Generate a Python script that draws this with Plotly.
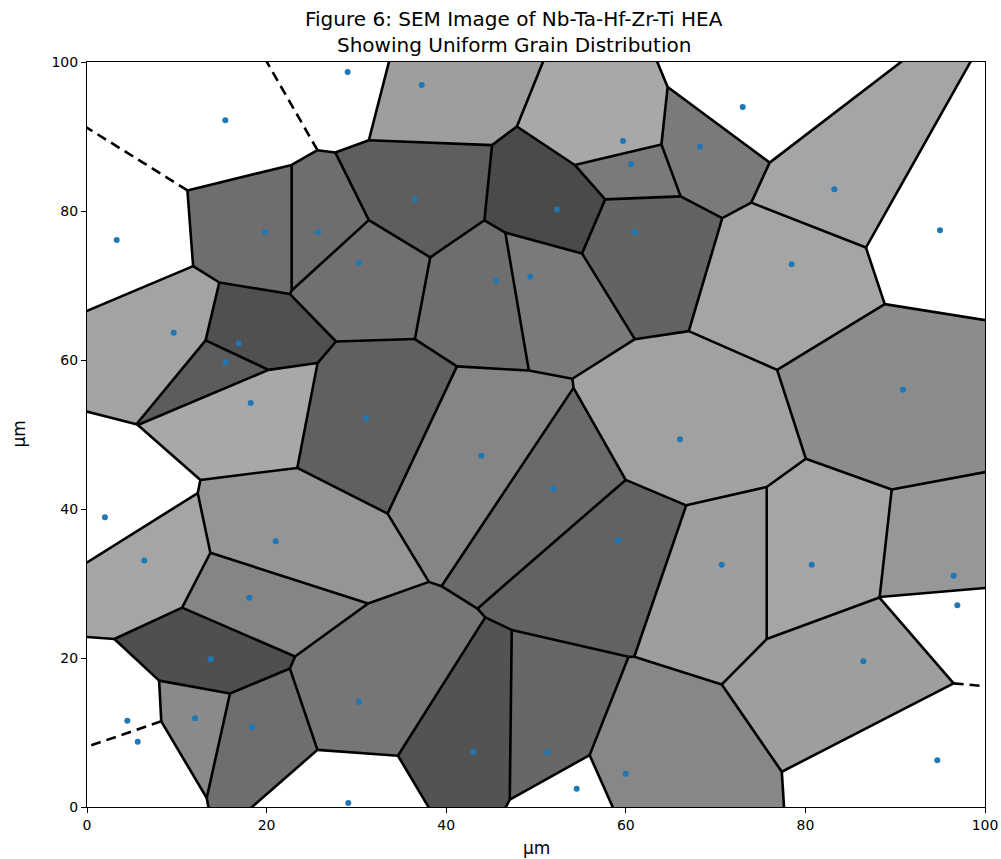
import numpy as np
import plotly.graph_objects as go

# Grain seed positions (µm)
seed_x = [3.31, 15.40, 29.03, 37.27, 59.69, 60.58, 68.26, 73.02, 83.22, 94.99,
          19.82, 25.76, 36.53, 52.34, 61.02, 30.29, 49.37, 45.55, 78.47, 9.65,
          16.89, 15.45, 18.23, 31.07, 90.87, 43.91, 66.04, 51.93, 2.00, 59.17,
          21.01, 6.38, 70.68, 80.70, 96.51, 96.92, 18.07, 13.78, 86.45, 4.49,
          12.03, 5.65, 18.37, 30.29, 43.02, 51.26, 59.99, 54.53, 29.10, 94.69]
seed_y = [76.11, 92.17, 98.66, 96.91, 89.40, 86.27, 88.63, 93.96, 82.91, 77.41,
          77.14, 77.14, 81.57, 80.23, 77.14, 73.02, 71.18, 70.64, 72.85, 63.66,
          62.24, 59.69, 54.23, 52.17, 56.01, 47.15, 49.36, 42.72, 38.89, 35.80,
          35.66, 33.09, 32.52, 32.52, 31.05, 27.07, 28.09, 19.87, 19.56, 11.58,
          11.91, 8.77, 10.74, 14.09, 7.42, 7.34, 4.47, 2.46, 0.54, 6.27]
# Grey level (0-255) of each grain; open boundary grains are left unfilled
grain_shade = [None, None, None, 158, 168, 122, 122, None, 165, None,
               110, 110, 94, 74, 99, 112, 122, 110, 165, 163,
               80, 92, 168, 96, 140, 133, 161, 106, None, 98,
               149, 165, 158, 165, 151, None, 133, 79, 158, None,
               138, None, 110, 118, 83, 103, 135, None, None, None]

tick_vals = [0, 20, 40, 60, 80, 100]
title_lines = ["Figure 6: SEM Image of Nb-Ta-Hf-Zr-Ti HEA",
               "Showing Uniform Grain Distribution"]
axis_label = "µm"

pts = np.column_stack([seed_x, seed_y]).astype(float)
n = len(pts)


def circumcenter(a, b, c):
    ax, ay = a
    bx, by = b
    cx, cy = c
    d = 2 * (ax * (by - cy) + bx * (cy - ay) + cx * (ay - by))
    ux = ((ax**2 + ay**2) * (by - cy) + (bx**2 + by**2) * (cy - ay) + (cx**2 + cy**2) * (ay - by)) / d
    uy = ((ax**2 + ay**2) * (cx - bx) + (bx**2 + by**2) * (ax - cx) + (cx**2 + cy**2) * (bx - ax)) / d
    return np.array([ux, uy])


# Bowyer-Watson Delaunay triangulation
big = 1e6
allp = np.vstack([pts, [[-big, -big], [big, -big], [0.0, big]]])
tris = [(n, n + 1, n + 2)]
cache = {}


def circ(t):
    if t not in cache:
        c = circumcenter(allp[t[0]], allp[t[1]], allp[t[2]])
        cache[t] = (c, np.sum((allp[t[0]] - c) ** 2))
    return cache[t]


for i in range(n):
    p = allp[i]
    bad = []
    for t in tris:
        c, r2 = circ(t)
        if np.sum((p - c) ** 2) < r2:
            bad.append(t)
    edge_count = {}
    for t in bad:
        for e in ((t[0], t[1]), (t[1], t[2]), (t[2], t[0])):
            k = tuple(sorted(e))
            edge_count[k] = edge_count.get(k, 0) + 1
    bad_set = set(bad)
    tris = [t for t in tris if t not in bad_set]
    for (a, b), cnt in edge_count.items():
        if cnt == 1:
            tris.append((a, b, i))

tris = [t for t in tris if max(t) < n]
centers = [circumcenter(pts[t[0]], pts[t[1]], pts[t[2]]) for t in tris]

edge_tris = {}
for ti, t in enumerate(tris):
    for e in ((t[0], t[1]), (t[1], t[2]), (t[2], t[0])):
        edge_tris.setdefault(tuple(sorted(e)), []).append(ti)

hull_pts = set()
for e, tl in edge_tris.items():
    if len(tl) == 1:
        hull_pts.update(e)

fig = go.Figure()

# Filled grains (closed Voronoi cells)
for i in range(n):
    if i in hull_pts or grain_shade[i] is None:
        continue
    vs = [centers[ti] for ti, t in enumerate(tris) if i in t]
    vs = sorted(vs, key=lambda v: np.arctan2(v[1] - pts[i][1], v[0] - pts[i][0]))
    xs = [v[0] for v in vs] + [vs[0][0]]
    ys = [v[1] for v in vs] + [vs[0][1]]
    g = grain_shade[i]
    fig.add_trace(go.Scatter(x=xs, y=ys, mode="lines", fill="toself",
                             fillcolor=f"rgb({g},{g},{g})",
                             line=dict(width=0, color=f"rgb({g},{g},{g})"),
                             hoverinfo="skip", showlegend=False))

# Grain boundaries: finite (solid) and open (dashed)
sx, sy, dx, dy = [], [], [], []
center = pts.mean(axis=0)
ptp = np.ptp(pts, axis=0)
aspect = abs(ptp.max() / ptp.min())
for e, tl in edge_tris.items():
    if len(tl) == 2:
        a, b = centers[tl[0]], centers[tl[1]]
        sx += [a[0], b[0], None]
        sy += [a[1], b[1], None]
    else:
        v = centers[tl[0]]
        t = pts[e[1]] - pts[e[0]]
        t = t / np.linalg.norm(t)
        nrm = np.array([-t[1], t[0]])
        mid = pts[list(e)].mean(axis=0)
        direction = np.sign(np.dot(mid - center, nrm)) * nrm
        far = v + direction * ptp.max() * aspect
        dx += [v[0], far[0], None]
        dy += [v[1], far[1], None]

fig.add_trace(go.Scatter(x=sx, y=sy, mode="lines", line=dict(color="black", width=2.6),
                         hoverinfo="skip", showlegend=False))
fig.add_trace(go.Scatter(x=dx, y=dy, mode="lines",
                         line=dict(color="black", width=2.6, dash="10px,6px"),
                         hoverinfo="skip", showlegend=False))

# Grain seeds
fig.add_trace(go.Scatter(x=seed_x, y=seed_y, mode="markers",
                         marker=dict(color="#1f77b4", size=6),
                         hoverinfo="skip", showlegend=False))

axis_common = dict(range=[0, 100], tickvals=tick_vals, ticks="outside", ticklen=5,
                   tickcolor="black", showgrid=False, zeroline=False, showline=True,
                   linecolor="black", linewidth=1, mirror=True, automargin=False,
                   tickfont=dict(family="DejaVu Sans", size=14, color="black"))

title_font = dict(family="DejaVu Sans", size=20, color="black")
label_font = dict(family="DejaVu Sans", size=17, color="black")

annotations = [
    dict(text=title_lines[0], x=0.476, y=1.0578, xref="paper", yref="paper",
         xanchor="center", yanchor="middle", showarrow=False, font=title_font),
    dict(text=title_lines[1], x=0.476, y=1.0228, xref="paper", yref="paper",
         xanchor="center", yanchor="middle", showarrow=False, font=title_font),
    dict(text=axis_label, x=0.5, y=-0.0551, xref="paper", yref="paper",
         xanchor="center", yanchor="middle", showarrow=False, font=label_font),
    dict(text=axis_label, x=-0.0768, y=0.5, xref="paper", yref="paper",
         xanchor="center", yanchor="middle", textangle=-90, showarrow=False,
         font=label_font),
]

fig.update_layout(
    width=1001, height=859,
    margin=dict(l=87, r=16, t=62, b=52, autoexpand=False),
    paper_bgcolor="white", plot_bgcolor="white",
    xaxis=axis_common,
    yaxis=axis_common,
    annotations=annotations,
)

fig.write_html("out.html")
